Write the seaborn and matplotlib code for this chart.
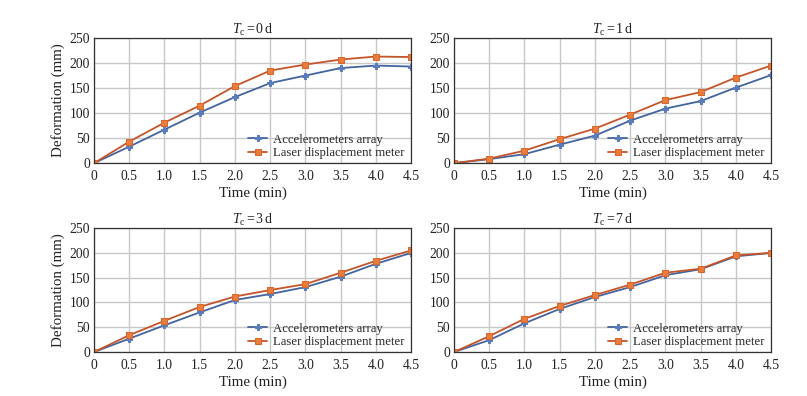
import matplotlib
matplotlib.use("Agg")
import matplotlib.pyplot as plt
import seaborn as sns
import pandas as pd

time = [0, 0.5, 1.0, 1.5, 2.0, 2.5, 3.0, 3.5, 4.0, 4.5]
panels = ["0", "1", "3", "7"]

accel_0 = [0, 33, 67, 101, 132, 160, 175, 190, 195, 193]
laser_0 = [0, 43, 81, 115, 154, 185, 197, 207, 213, 212]
accel_1 = [0, 8, 18, 37, 55, 85, 109, 124, 151, 176]
laser_1 = [0, 9, 25, 48, 69, 97, 126, 142, 171, 195]
accel_3 = [0, 27, 54, 80, 105, 117, 131, 152, 178, 200]
laser_3 = [0, 34, 63, 91, 112, 125, 137, 160, 184, 205]
accel_7 = [0, 24, 58, 87, 111, 131, 155, 167, 193, 200]
laser_7 = [0, 32, 67, 93, 115, 136, 160, 168, 195, 200]

accel = {"0": accel_0, "1": accel_1, "3": accel_3, "7": accel_7}
laser = {"0": laser_0, "1": laser_1, "3": laser_3, "7": laser_7}

s_acc = "Accelerometers array"
s_las = "Laser displacement meter"
xticks = [0, 0.5, 1.0, 1.5, 2.0, 2.5, 3.0, 3.5, 4.0, 4.5]
xticklabels = ["0", "0.5", "1.0", "1.5", "2.0", "2.5", "3.0", "3.5", "4.0", "4.5"]
yticks = [0, 50, 100, 150, 200, 250]

sns.set_style("white")
plt.rcParams["font.family"] = ["Liberation Serif", "DejaVu Serif"]
plt.rcParams["mathtext.fontset"] = "custom"
plt.rcParams["mathtext.rm"] = "Liberation Serif"
plt.rcParams["mathtext.it"] = "Liberation Serif:italic"

fig = plt.figure(figsize=(8.07, 3.96), dpi=100)
positions = [
    [0.1165, 0.588, 0.393, 0.316],
    [0.5626, 0.588, 0.393, 0.316],
    [0.1165, 0.111, 0.393, 0.313],
    [0.5626, 0.111, 0.393, 0.313],
]
c_acc = "#43649e"
c_las = "#c4552b"
palette = {s_acc: c_acc, s_las: c_las}


def style_markers(lines):
    for ln in lines:
        c = ln.get_color()
        if c == c_las:
            ln.set_markerfacecolor("#ea7d3c")
            ln.set_markeredgecolor("#d8672f")
            ln.set_markersize(5)
        elif c == c_acc:
            ln.set_markerfacecolor("#5b7cba")
            ln.set_markeredgecolor("#5b7cba")
            ln.set_markersize(4)


for i, p in enumerate(panels):
    ax = fig.add_axes(positions[i])
    df = pd.DataFrame({
        "Time": time + time,
        "Deformation": accel[p] + laser[p],
        "Series": [s_acc] * len(time) + [s_las] * len(time),
    })
    sns.lineplot(data=df, x="Time", y="Deformation", hue="Series", style="Series",
                 palette=palette, markers={s_acc: "P", s_las: "s"}, dashes=False,
                 markersize=5, linewidth=1.3, ax=ax, legend=True)
    style_markers(ax.get_lines())
    ax.set_xlim(0, 4.5)
    ax.set_ylim(0, 250)
    ax.set_xticks(xticks)
    ax.set_xticklabels(xticklabels)
    ax.set_yticks(yticks)
    ax.grid(True, color="#c8c8c8", linewidth=1.0)
    ax.set_axisbelow(True)
    for sp in ax.spines.values():
        sp.set_color("#333333")
        sp.set_linewidth(0.9)
    ax.tick_params(axis="x", labelsize=9.8, length=0, pad=5, colors="#222222")
    ax.tick_params(axis="y", labelsize=9.8, length=0, pad=3, colors="#222222")
    ax.set_xlabel("Time (min)", fontsize=10.8, labelpad=2.5, color="#222222")
    if i % 2 == 0:
        ax.set_ylabel("Deformation (mm)", fontsize=10.8, labelpad=3, color="#222222")
    else:
        ax.set_ylabel("")
    ax.set_title(r"$T_\mathrm{c}$" + "$\\,$=$\\,$" + p + "$\\,$d", fontsize=10, pad=3, color="#222222")
    leg = ax.legend(loc="lower right", bbox_to_anchor=(0.985, 0.015), frameon=False, fontsize=9.2,
                    handlelength=1.5, handletextpad=0.45, labelspacing=0.12,
                    borderaxespad=0.0, borderpad=0.15)
    style_markers(leg.legend_handles)

fig.savefig("out.png", dpi=100)
